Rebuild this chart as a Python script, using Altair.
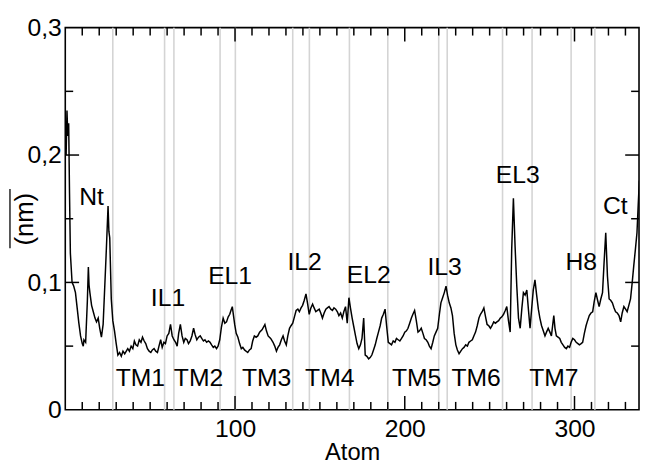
import altair as alt
import pandas as pd

# ---------------- data ----------------
atom_x = [0.5, 1, 1.5, 2, 2.5, 3, 4, 5, 6, 7, 8, 9, 10, 10.6, 11, 12, 13, 13.6, 14, 14.5,
          15.5, 16.5, 17.5, 18.4, 19.4, 20.3, 21.3, 22.3, 23.3, 24.2, 25.2, 25.7, 26.2, 27.1, 28,
          29, 30, 31, 32, 33, 34, 35, 36.8, 37.8, 38.8, 39.8, 40.7, 41.6, 42.6, 43.6, 44.6,
          45.5, 46.5, 47.4, 48.4, 49.4, 50.4, 51.3, 52.3, 53.3, 54.3, 55.2, 56.2, 57.1, 58.1,
          59, 60, 61, 62, 63, 64, 65, 65.9, 66.8, 67.8, 68.8, 69.8, 70.7, 71.7, 72.6, 73.6,
          74.6, 75.6, 76.5, 77.5, 78.5, 79.5, 80.4, 81.4, 82.3, 83.3, 84.3, 85.3, 86.2, 87.2,
          88.1, 89.1, 90, 91, 92, 93, 94, 95, 96, 96.9, 97.6, 98.4, 99.1, 99.8, 100.7, 101.7,
          102.7, 103.7, 104.6, 105.6, 106.5, 107.5, 108.5, 109.5, 110.4, 111.4, 112.4, 113.4,
          114.5, 116, 117.6, 118.5, 119.5, 121, 122.4, 123.4, 124.4, 125.3, 126.3, 127.3,
          128.3, 129.2, 130.2, 131.1, 132.1, 133, 134, 135, 136, 137, 137.9, 138.9, 139.8,
          140.8, 141.8, 142.8, 143.7, 144.7, 145.7, 146.6, 147.6, 148.6, 149.6, 150.5, 151.5,
          152.5, 153.5, 154.4, 155.4, 156.4, 157.4, 158.3, 159.3, 160.3, 161.2, 162.2, 163.2,
          164.1, 165.1, 166.1, 167.1, 168, 169, 170, 171, 171.9, 172.9, 173.9, 174.8, 175.8,
          176.7, 177.7, 178.7, 179.6, 180.6, 181.6, 182.6, 183.5, 184.5, 185.5, 186.4, 187.4,
          188.4, 189.3, 190.3, 191.3, 192.2, 193.2, 194.2, 195.1, 196.1, 197.1, 198.1, 199,
          200, 201, 201.9, 202.9, 203.9, 204.8, 205.8, 206.8, 207.8, 208.7, 209.7, 210.7,
          211.6, 212.6, 213.6, 214.5, 215.5, 216.5, 217.4, 218.4, 219.4, 220.4, 221.3, 222.3,
          223.3, 224.3, 225.2, 226.2, 227.2, 228.1, 229.1, 230.1, 231, 232, 233, 234, 234.9,
          235.9, 236.9, 237.8, 238.8, 239.8, 240.7, 241.7, 242.7, 243.7, 244.6, 245.6, 246.6,
          247.6, 248.5, 249.5, 250.5, 251.4, 252.4, 253.4, 254.3, 255.3, 256.3, 257.2, 258.2,
          259.2, 260.1, 261.1, 262.1, 263, 264, 265, 266, 267, 268, 269, 269.9, 270.9, 271.9,
          272.9, 273.8, 274.8, 275.7, 276.7, 277.7, 278.7, 279.6, 280.6, 281.6, 282.6, 283.5,
          284.5, 285.5, 286.4, 287.8, 288.5, 289.3, 290.3, 291.3, 292.2, 293.2, 294.2, 295.2,
          296.1, 297.1, 298, 299, 300, 301, 302, 302.9, 303.9, 304.8, 305.8, 306.8, 307.7,
          308.7, 309.7, 310.7, 311.6, 312.6, 313.6, 314.5, 315.5, 316.5, 317.4, 318.4, 319.4,
          320.4, 321.3, 322.3, 323.3, 324.2, 325.2, 326.2, 327.2, 328.1, 329.1, 330.1, 331,
          332, 333, 334, 334.9, 335.8, 336.8, 337.5, 338.2]
rmsf_y = [0.200, 0.235, 0.215, 0.225, 0.170, 0.123, 0.100, 0.097, 0.092, 0.080, 0.068, 0.058,
          0.052, 0.050, 0.055, 0.053, 0.085, 0.112, 0.098, 0.092, 0.082, 0.077, 0.072, 0.069,
          0.072, 0.064, 0.057, 0.067, 0.098, 0.126, 0.160, 0.140, 0.135, 0.087, 0.070, 0.062,
          0.052, 0.043, 0.045, 0.042, 0.046, 0.044, 0.048, 0.046, 0.050, 0.048, 0.054, 0.051,
          0.050, 0.055, 0.053, 0.057, 0.054, 0.052, 0.048, 0.046, 0.045, 0.047, 0.048, 0.046,
          0.045, 0.050, 0.055, 0.049, 0.053, 0.052, 0.058, 0.060, 0.067, 0.058, 0.055, 0.053,
          0.050, 0.060, 0.067, 0.058, 0.053, 0.056, 0.055, 0.052, 0.054, 0.058, 0.064, 0.059,
          0.055, 0.057, 0.058, 0.056, 0.054, 0.055, 0.053, 0.054, 0.053, 0.051, 0.049, 0.050,
          0.048, 0.050, 0.055, 0.065, 0.072, 0.068, 0.069, 0.073, 0.075, 0.078, 0.081, 0.074,
          0.067, 0.060, 0.057, 0.052, 0.048, 0.049, 0.047, 0.046, 0.045, 0.047, 0.048, 0.054,
          0.058, 0.057, 0.058, 0.061, 0.063, 0.067, 0.062, 0.058, 0.056, 0.053, 0.050, 0.046,
          0.049, 0.051, 0.055, 0.058, 0.054, 0.051, 0.058, 0.064, 0.066, 0.068, 0.073, 0.078,
          0.079, 0.077, 0.080, 0.082, 0.086, 0.091, 0.083, 0.075, 0.080, 0.083, 0.080, 0.077,
          0.078, 0.079, 0.076, 0.072, 0.076, 0.079, 0.080, 0.081, 0.079, 0.078, 0.080, 0.079,
          0.077, 0.074, 0.076, 0.072, 0.077, 0.081, 0.068, 0.088, 0.080, 0.072, 0.065, 0.058,
          0.052, 0.048, 0.051, 0.056, 0.072, 0.043, 0.042, 0.040, 0.041, 0.043, 0.047, 0.051,
          0.056, 0.061, 0.066, 0.072, 0.075, 0.079, 0.066, 0.053, 0.052, 0.051, 0.054, 0.053,
          0.056, 0.055, 0.054, 0.056, 0.058, 0.061, 0.062, 0.064, 0.068, 0.072, 0.075, 0.078,
          0.070, 0.061, 0.062, 0.064, 0.060, 0.056, 0.055, 0.053, 0.050, 0.048, 0.053, 0.058,
          0.061, 0.064, 0.075, 0.084, 0.088, 0.092, 0.097, 0.090, 0.084, 0.080, 0.074, 0.060,
          0.051, 0.047, 0.044, 0.046, 0.048, 0.049, 0.051, 0.050, 0.053, 0.054, 0.055, 0.058,
          0.061, 0.066, 0.072, 0.075, 0.077, 0.080, 0.073, 0.067, 0.066, 0.064, 0.066, 0.069,
          0.068, 0.069, 0.070, 0.072, 0.073, 0.075, 0.078, 0.081, 0.070, 0.061, 0.126, 0.166,
          0.128, 0.097, 0.072, 0.064, 0.080, 0.092, 0.090, 0.094, 0.078, 0.064, 0.080, 0.094,
          0.102, 0.090, 0.079, 0.072, 0.066, 0.062, 0.058, 0.061, 0.064, 0.061, 0.058, 0.074,
          0.064, 0.058, 0.057, 0.056, 0.053, 0.051, 0.049, 0.048, 0.050, 0.049, 0.053, 0.056,
          0.055, 0.053, 0.052, 0.051, 0.052, 0.053, 0.060, 0.066, 0.070, 0.074, 0.076, 0.077,
          0.085, 0.092, 0.086, 0.081, 0.087, 0.092, 0.115, 0.139, 0.105, 0.087, 0.086, 0.084,
          0.080, 0.077, 0.076, 0.074, 0.069, 0.076, 0.081, 0.079, 0.077, 0.082, 0.087, 0.100,
          0.113, 0.125, 0.139, 0.160, 0.180]

region_bounds = [28, 58.5, 64, 91.2, 100.2, 134, 143.8, 167.4, 190, 220, 225, 257.6, 275, 298, 312]

label_text = ["Nt", "IL1", "EL1", "IL2", "EL2", "IL3", "EL3", "H8", "Ct",
              "TM1", "TM2", "TM3", "TM4", "TM5", "TM6", "TM7"]
label_x = [15.5, 60.5, 97.1, 141.0, 178.8, 223.5, 266.6, 304.0, 324.0,
           44.2, 78.5, 118.6, 155.8, 207.0, 242.0, 287.8]
label_y = [0.167, 0.088, 0.105, 0.116, 0.106, 0.112, 0.184, 0.116, 0.160,
           0.025, 0.025, 0.025, 0.025, 0.025, 0.025, 0.025]

x_major = [100, 200, 300]
x_minor = [v for v in range(10, 340, 10) if v % 100 != 0]
y_major = [0.1, 0.2]
y_minor = [0.05, 0.15, 0.25]
y_labels = [0, 0.1, 0.2, 0.3]

X_DOMAIN = [0, 338]
Y_DOMAIN = [0, 0.3]

W, H = 581, 387
FONT = "Liberation Sans"

xs = alt.Scale(domain=X_DOMAIN, nice=False, zero=False)
ys = alt.Scale(domain=Y_DOMAIN, nice=False)

AX_X = alt.Axis(
    values=x_major, ticks=False, tickSize=0, domain=False, grid=False,
    labelFontSize=25, labelFont=FONT, labelColor="black", labelPadding=7,
    title="Atom", titleFontSize=24, titleFont=FONT, titleFontWeight="normal",
    titleColor="black", titleY=50, titleBaseline="alphabetic")
AX_Y = alt.Axis(
    values=y_labels, ticks=False, tickSize=0, domain=False, grid=False,
    labelFontSize=25, labelFont=FONT, labelColor="black", labelPadding=4,
    labelExpr="datum.value == 0 ? '0' : replace(format(datum.value, '.1f'), '.', ',')",
    title="(nm)", titleFontSize=26, titleFont=FONT, titleFontWeight="normal",
    titleColor="black", titleX=-33, titleY=H / 2, titleAngle=270,
    titleBaseline="alphabetic", titleAlign="center")

line_df = pd.DataFrame({"atom": atom_x, "rmsf": rmsf_y})

bounds = alt.Chart(pd.DataFrame({"b": region_bounds})).mark_rule(
    color="#d4d4d4", strokeWidth=1.6).encode(
    x=alt.X("b:Q", scale=xs, axis=AX_X, title="Atom"))

line = alt.Chart(line_df).mark_line(color="black", strokeWidth=1.5, clip=True).encode(
    x=alt.X("atom:Q", scale=xs, axis=AX_X, title="Atom"),
    y=alt.Y("rmsf:Q", scale=ys, axis=AX_Y, title="(nm)"),
)


def vticks(vals, length, top):
    df = pd.DataFrame({"t": vals})
    if top:
        yv, y2v = 0, length
    else:
        yv, y2v = H, H - length
    return alt.Chart(df).mark_rule(color="black", strokeWidth=1.5).encode(
        x=alt.X("t:Q", scale=xs, axis=AX_X, title="Atom"),
        y=alt.value(yv), y2=alt.value(y2v))


def hticks(vals, length, right):
    df = pd.DataFrame({"t": vals})
    if right:
        xv, x2v = W, W - length
    else:
        xv, x2v = 0, length
    return alt.Chart(df).mark_rule(color="black", strokeWidth=1.5).encode(
        y=alt.Y("t:Q", scale=ys, axis=AX_Y, title="(nm)"),
        x=alt.value(xv), x2=alt.value(x2v))


ticks = [vticks(x_major, 14, False), vticks(x_minor, 8, False),
         vticks(x_major, 14, True), vticks(x_minor, 8, True),
         hticks(y_major, 14, False), hticks(y_minor, 8, False),
         hticks(y_major, 14, True), hticks(y_minor, 8, True)]

labels_df = pd.DataFrame({"lx": label_x, "ly": label_y, "txt": label_text})
labels = alt.Chart(labels_df).mark_text(
    fontSize=25, font=FONT, color="black", baseline="middle", align="center").encode(
    x=alt.X("lx:Q", scale=xs, axis=AX_X, title="Atom"),
    y=alt.Y("ly:Q", scale=ys, axis=AX_Y, title="(nm)"),
    text="txt:N")

# overline drawn above the rotated y title
overline = alt.Chart(pd.DataFrame({"o": [0]})).mark_rule(
    color="black", strokeWidth=1.3).encode(
    x=alt.value(-56), y=alt.value(H / 2 - 30), y2=alt.value(H / 2 + 30))

chart = alt.layer(bounds, line, *ticks, labels, overline).properties(
    width=W, height=H,
    autosize=alt.AutoSizeParams(type="none"),
    padding={"left": 58, "top": 17, "right": 1, "bottom": 54},
).configure_view(stroke="black", strokeWidth=1.6)

chart.save("out.html", embed_options={"renderer": "svg", "actions": False})
